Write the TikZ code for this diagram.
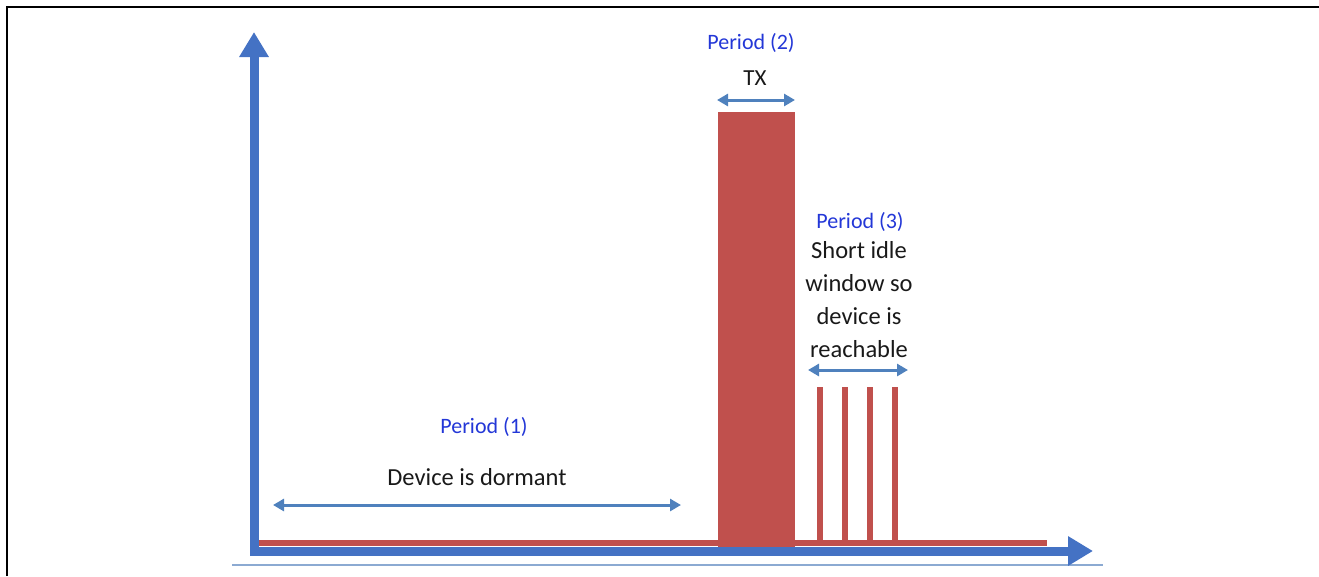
\documentclass[tikz,border=0pt]{standalone}
\usepackage{fontspec}
\setmainfont{Carlito}
\usetikzlibrary{arrows.meta}
\definecolor{axisblue}{RGB}{68,114,196}
\definecolor{arrblue}{RGB}{79,129,189}
\definecolor{barred}{RGB}{192,80,77}
\definecolor{txtblue}{RGB}{35,55,215}
\definecolor{txtdark}{RGB}{25,25,25}
\definecolor{thinblue}{RGB}{140,170,210}
\tikzset{
  axis/.style={draw=axisblue, line width=9pt, -{Triangle[length=25pt,width=28pt]}},
  span/.style={draw=arrblue, line width=3pt, {Triangle[length=11pt,width=12pt]}-{Triangle[length=11pt,width=12pt]}},
  lbl/.style={font=\fontsize{24.5}{33}\selectfont, text=txtdark, inner sep=0pt, anchor=base},
  plbl/.style={lbl, font=\fontsize{22}{33}\selectfont, text=txtblue},
  redline/.style={draw=barred, line width=6pt},
}
\begin{document}
\begin{tikzpicture}[x=1pt,y=-1pt]
\useasboundingbox (0,0) rectangle (1319,576);
% frame
\draw[line width=2.5pt, black] (7,576) -- (7,7) -- (1319,7);
% thin bottom line
\draw[thinblue, line width=1.5pt] (232,565) -- (1103,565);
% red signal
\draw[redline] (258,543) -- (1047,543);
\fill[barred] (718,112) rectangle (795,548);
\foreach \xx in {820,845,870,895} \draw[redline] (\xx,543) -- (\xx,387);
% axes
\coordinate (yaxbot) at (254,555);
\coordinate (yaxtop) at (254,32);
\coordinate (xaxleft) at (250,551);
\coordinate (xaxright) at (1093,551);
\draw[axis] (yaxbot) -- (yaxtop);
\draw[axis] (xaxleft) -- (xaxright);
% spans
\coordinate (p1a) at (273,505);
\coordinate (p1b) at (681,505);
\coordinate (p2a) at (717,100);
\coordinate (p2b) at (795,100);
\coordinate (p3a) at (808,370);
\coordinate (p3b) at (908,370);
\draw[span] (p1a) -- (p1b);
\draw[span] (p2a) -- (p2b);
\draw[span] (p3a) -- (p3b);
% labels
\node[plbl] (per2) at (751,49) {Period (2)};
\node[lbl, font=\fontsize{23}{33}\selectfont] (tx) at (755,85) {TX};
\node[plbl] (per3) at (860,228) {Period (3)};
\node[lbl] (l1) at (859,258) {Short idle};
\node[lbl] (l2) at (859,291) {window so};
\node[lbl] (l3) at (859,324) {device is};
\node[lbl] (l4) at (859,357) {reachable};
\node[plbl] (per1) at (484,433) {Period (1)};
\node[lbl] (dorm) at (477,485) {Device is dormant};
\end{tikzpicture}
\end{document}
